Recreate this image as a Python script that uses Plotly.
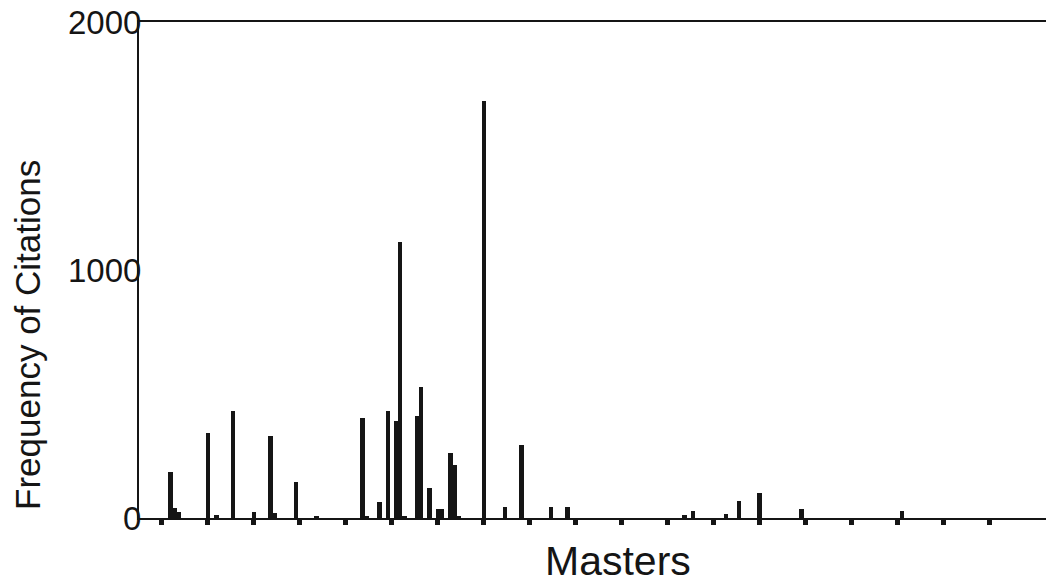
import plotly.graph_objects as go

# Master index (category position along the axis) and citation counts
masters = [2, 3, 4, 11, 13, 17, 22, 26, 27, 32, 37,
           48, 49, 52, 54, 56, 57, 58, 61, 62, 64, 66, 67, 69, 70, 71,
           77, 82, 86, 93, 97, 125, 127, 135, 138, 143, 153, 177]
citations = [185, 40, 25, 342, 12, 431, 25, 332, 20, 145, 8,
             402, 8, 66, 433, 391, 1113, 6, 412, 530, 119, 38, 38, 264, 215, 5,
             1680, 46, 294, 46, 46, 12, 28, 16, 68, 99, 36, 28]

x_tick_positions = list(range(0, 199, 11))
y_tick_values = [0, 1000, 2000]
y_tick_labels = ["0", "1000", "2000"]

FONT = "Liberation Sans, Arial, sans-serif"
INK = "#151515"

fig = go.Figure()
fig.add_trace(go.Bar(
    x=masters, y=citations, width=1.05,
    marker=dict(color=INK, line=dict(width=0)),
    showlegend=False,
))

fig.update_layout(
    width=1046, height=583,
    margin=dict(l=139, r=0, t=22, b=65, autoexpand=False),
    paper_bgcolor="white", plot_bgcolor="white",
    bargap=0,
    xaxis=dict(
        range=[-5.5, 211.5],
        tickvals=x_tick_positions,
        ticktext=["" for _ in x_tick_positions],
        ticks="outside", ticklen=5, tickwidth=5, tickcolor=INK,
        showline=True, linecolor=INK, linewidth=2, mirror=True,
        showgrid=False, zeroline=False,
    ),
    yaxis=dict(
        range=[0, 2000],
        tickvals=y_tick_values, ticktext=y_tick_labels,
        ticks="", ticklabelstandoff=-11, ticklabeloverflow="allow",
        tickfont=dict(family=FONT, size=33, color=INK),
        showline=True, linecolor=INK, linewidth=2,
        showgrid=False, zeroline=False,
    ),
    annotations=[
        dict(text="Masters", xref="paper", yref="paper", x=0.528, y=0,
             xanchor="center", yanchor="top", yshift=-18, showarrow=False,
             font=dict(family=FONT, size=41, color=INK)),
        dict(text="Frequency of Citations", xref="paper", yref="paper",
             x=-0.1224, y=0.369, xanchor="center", yanchor="middle",
             textangle=-90, showarrow=False,
             font=dict(family=FONT, size=35, color=INK)),
    ],
)

fig.write_html(
    "out.html",
    config={"displayModeBar": False},
    post_script="document.body.style.margin='0';document.body.style.overflow='hidden';",
)
